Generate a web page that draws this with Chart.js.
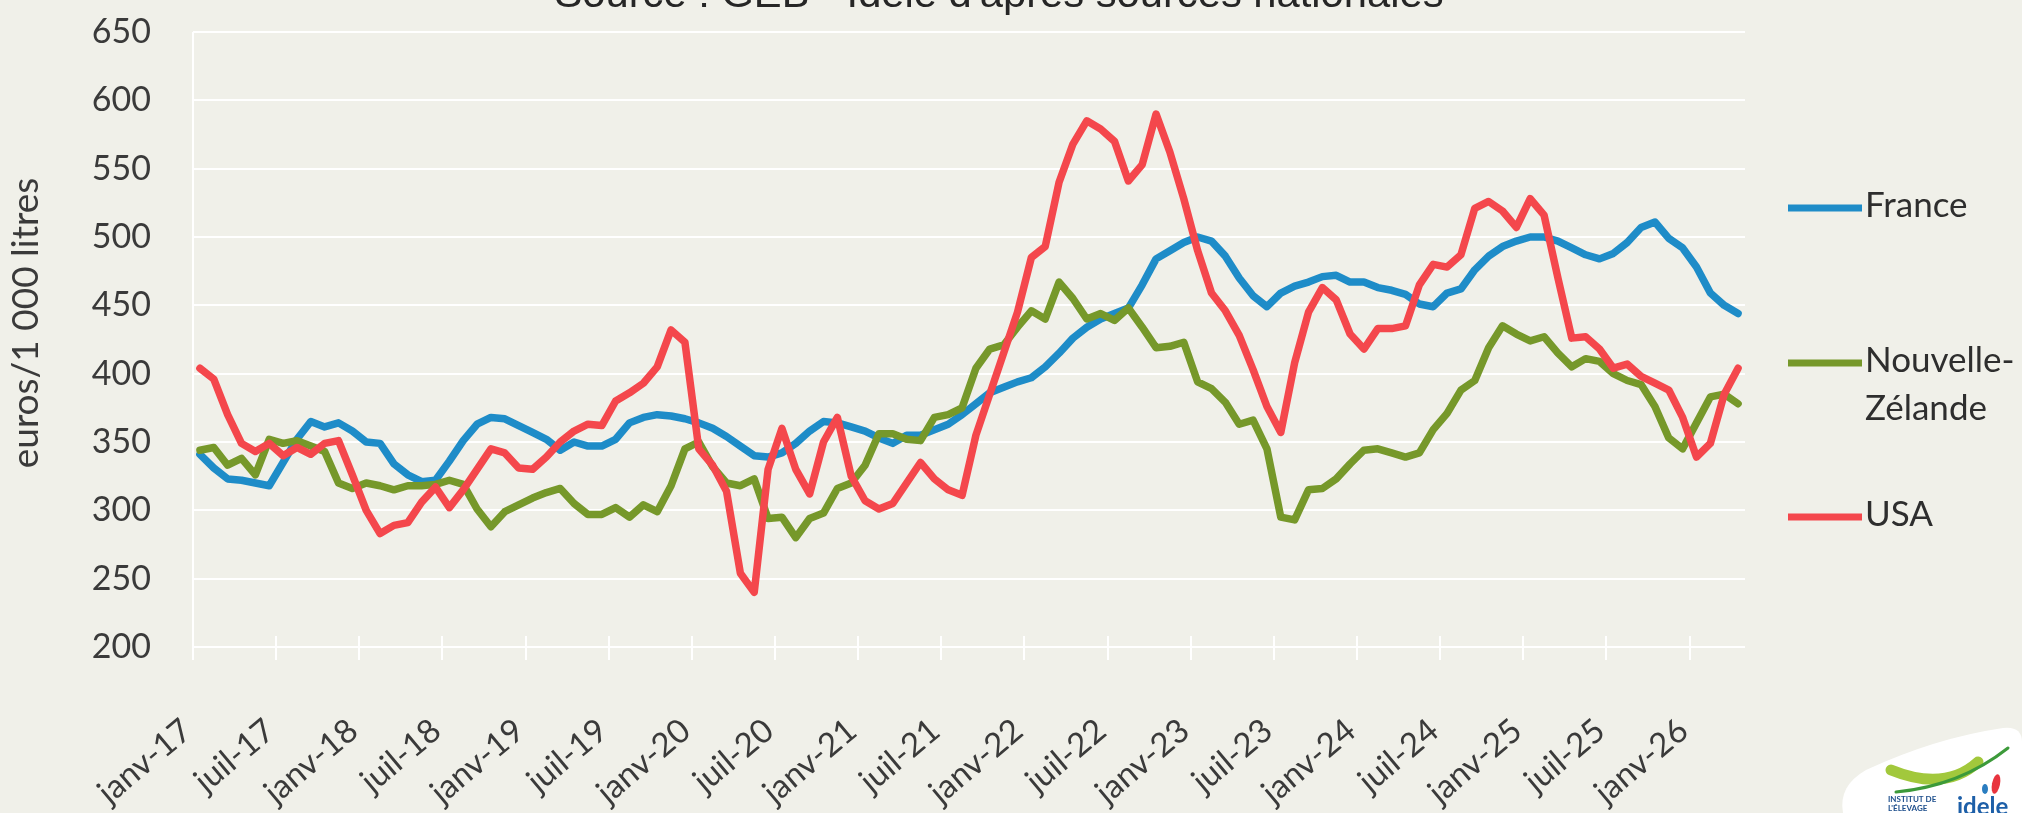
<!DOCTYPE html>
<html lang="fr">
<head>
<meta charset="utf-8">
<title>Prix du lait payé aux producteurs</title>
<script src="https://cdn.jsdelivr.net/npm/chart.js@4.4.1/dist/chart.umd.min.js"></script>
<style>
  html, body { margin: 0; padding: 0; background: #F0F0E9; }
  #wrap { width: 2022px; height: 813px; position: relative; }
</style>
</head>
<body>
<div id="wrap"><canvas id="chart"></canvas></div>
<script>
// Monthly categories: janv-17 … avr-26
const monthNames = ['janv', 'févr', 'mars', 'avr', 'mai', 'juin', 'juil', 'août', 'sept', 'oct', 'nov', 'déc'];
const years = ['17', '18', '19', '20', '21', '22', '23', '24', '25', '26'];
const lastMonthCount = 4; // janv-26 … avr-26
const months = [];
years.forEach((yy, k) => {
  const n = k === years.length - 1 ? lastMonthCount : 12;
  for (let m = 0; m < n; m++) months.push(monthNames[m] + '-' + yy);
});

// Prix du lait, euros / 1 000 litres
const france = [
  341, 331, 323, 322, 320, 318, 335, 352, 365, 361, 364, 358,
  350, 349, 334, 326, 321, 322, 336, 351, 363, 368, 367, 362,
  357, 352, 344, 350, 347, 347, 352, 364, 368, 370, 369, 367,
  364, 360, 354, 347, 340, 339, 342, 349, 358, 365, 364, 361,
  358, 353, 349, 355, 355, 359, 363, 370, 378, 386, 390, 394,
  397, 405, 415, 426, 434, 440, 444, 448, 465, 484, 490, 496,
  500, 497, 486, 470, 457, 449, 459, 464, 467, 471, 472, 467,
  467, 463, 461, 458, 451, 449, 459, 462, 476, 486, 493, 497,
  500, 500, 497, 492, 487, 484, 488, 496, 507, 511, 499, 492,
  478, 459, 450, 444
];
const nouvelleZelande = [
  344, 346, 333, 338, 326, 352, 349, 351, 347, 343, 320, 316,
  320, 318, 315, 318, 318, 319, 322, 319, 301, 288, 299, 304,
  309, 313, 316, 305, 297, 297, 302, 295, 304, 299, 318, 345,
  350, 332, 320, 318, 323, 294, 295, 280, 294, 298, 316, 320,
  333, 356, 356, 352, 351, 368, 370, 375, 404, 418, 421, 434,
  446, 440, 467, 455, 440, 444, 439, 448, 434, 419, 420, 423,
  394, 389, 379, 363, 366, 345, 295, 293, 315, 316, 323, 334,
  344, 345, 342, 339, 342, 359, 371, 388, 395, 419, 435, 429,
  424, 427, 415, 405, 411, 409, 400, 395, 392, 376, 353, 345,
  364, 383, 385, 378
];
const usa = [
  404, 396, 370, 349, 343, 349, 340, 346, 341, 349, 351, 326,
  300, 283, 289, 291, 306, 317, 302, 315, 330, 345, 342, 331,
  330, 339, 350, 358, 363, 362, 380, 386, 393, 405, 432, 423,
  345, 333, 314, 254, 240, 330, 360, 330, 312, 350, 368, 325,
  307, 301, 305, 320, 335, 323, 315, 311, 355, 385, 415, 445,
  485, 493, 540, 568, 585, 579, 570, 541, 553, 590, 562, 528,
  490, 459, 446, 428, 403, 376, 357, 408, 445, 463, 454, 429,
  418, 433, 433, 435, 465, 480, 478, 487, 521, 526, 519, 507,
  528, 516, 470, 426, 427, 418, 404, 407, 398, 393, 388, 368,
  339, 349, 385, 404
];
const yTicks = { min: 200, max: 650, step: 50 };
const tickEvery = 6; // janv / juil

const sourceText = "Source : GEB - Idele d'après sources nationales";
const yTitle = 'euros/1 000 litres';

const BG = '#F0F0E9';
const TEXT = '#3A3A3A';
const FONT = 'Lato, "Open Sans", "Noto Sans", sans-serif';

// each value sits in the middle of its month slot
const toPoints = arr => arr.map((v, i) => ({ x: i + 0.5, y: v }));

const series = [
  { label: 'France', values: france, color: '#1E8CC8' },
  { label: 'Nouvelle-Zélande', values: nouvelleZelande, color: '#76982A' },
  { label: 'USA', values: usa, color: '#F4474C' }
];

const frame = {
  id: 'frame',
  beforeDraw(chart) {
    const { ctx, width, height } = chart;
    ctx.save();
    ctx.fillStyle = BG;
    ctx.fillRect(0, 0, width, height);
    ctx.restore();
  },
  beforeDatasetsDraw(chart) {
    const { ctx, chartArea: a, scales: { x } } = chart;
    ctx.save();
    ctx.strokeStyle = '#FFFFFF';
    ctx.lineWidth = 2;
    ctx.beginPath();
    ctx.moveTo(a.left, a.top);
    ctx.lineTo(a.left, a.bottom + 13);
    ctx.stroke();
    x.ticks.forEach(t => {
      const px = Math.round(x.getPixelForValue(t.value));
      ctx.beginPath();
      ctx.moveTo(px, a.bottom - 11);
      ctx.lineTo(px, a.bottom + 13);
      ctx.stroke();
    });
    ctx.restore();
  },
  afterDraw(chart) {
    const { ctx, chartArea: a } = chart;
    ctx.save();

    // source line, partly above the top edge
    ctx.fillStyle = '#262626';
    ctx.font = '40px "Liberation Sans Narrow", "Liberation Sans", Arial, sans-serif';
    const w = ctx.measureText(sourceText).width;
    ctx.translate(999, 7);
    ctx.scale(889 / w, 1);
    ctx.textAlign = 'center';
    ctx.textBaseline = 'alphabetic';
    ctx.fillText(sourceText, 0, 0);
    ctx.setTransform(1, 0, 0, 1, 0, 0);

    // vertical axis title
    ctx.save();
    ctx.translate(26, 323);
    ctx.rotate(-Math.PI / 2);
    ctx.fillStyle = TEXT;
    ctx.font = '37px ' + FONT;
    ctx.textAlign = 'center';
    ctx.textBaseline = 'middle';
    ctx.fillText(yTitle, 0, 0);
    ctx.restore();

    // legend at the right
    const slots = [208, 363, 517];
    const lx0 = a.right + 43, lx1 = a.right + 117;
    ctx.font = '35px ' + FONT;
    ctx.textAlign = 'left';
    ctx.textBaseline = 'alphabetic';
    chart.data.datasets.forEach((ds, i) => {
      const y = slots[i];
      ctx.strokeStyle = ds.borderColor;
      ctx.lineWidth = 7;
      ctx.beginPath();
      ctx.moveTo(lx0, y);
      ctx.lineTo(lx1, y);
      ctx.stroke();
      ctx.fillStyle = '#2E2E2E';
      ds.label.split(/(?<=-)/).forEach((part, j) => {
        ctx.fillText(part, lx1 + 3, y + 9 + j * 48);
      });
    });

    // institute badge, bottom right
    ctx.fillStyle = '#FFFFFF';
    ctx.beginPath();
    ctx.moveTo(1843, 813);
    ctx.quadraticCurveTo(1838, 786, 1866, 770);
    ctx.quadraticCurveTo(1935, 738, 2003, 728);
    ctx.quadraticCurveTo(2022, 726, 2022, 742);
    ctx.lineTo(2022, 813);
    ctx.closePath();
    ctx.fill();
    ctx.lineCap = 'round';
    ctx.strokeStyle = '#A2C83C';
    ctx.lineWidth = 11;
    ctx.beginPath();
    ctx.moveTo(1891, 770);
    ctx.quadraticCurveTo(1945, 792, 1978, 762);
    ctx.stroke();
    ctx.strokeStyle = '#3C9A3A';
    ctx.lineWidth = 3;
    ctx.beginPath();
    ctx.moveTo(1896, 792);
    ctx.quadraticCurveTo(1960, 786, 2008, 748);
    ctx.stroke();
    ctx.fillStyle = '#E8343E';
    ctx.beginPath();
    ctx.ellipse(1996, 784, 4, 10, 0.2, 0, Math.PI * 2);
    ctx.fill();
    ctx.fillStyle = '#2A7DC0';
    ctx.beginPath();
    ctx.ellipse(1985, 789, 3, 5, 0, 0, Math.PI * 2);
    ctx.fill();
    ctx.fillStyle = '#1D5FA8';
    ctx.font = 'bold 24px ' + FONT;
    ctx.fillText('idele', 1957, 815);
    ctx.font = 'bold 8px ' + FONT;
    ctx.fillStyle = '#1D4E8C';
    ctx.fillText('INSTITUT DE', 1888, 802);
    ctx.fillText("L'ÉLEVAGE", 1888, 811);

    ctx.restore();
  }
};

new Chart(document.getElementById('chart'), {
  type: 'line',
  data: {
    datasets: series.map((s, i) => ({
      label: s.label,
      data: toPoints(s.values),
      borderColor: s.color,
      backgroundColor: s.color,
      borderWidth: 7.5,
      pointRadius: 0,
      pointHoverRadius: 0,
      tension: 0,
      borderJoinStyle: 'round',
      borderCapStyle: 'round',
      fill: false,
      order: series.length - i
    }))
  },
  options: {
    responsive: true,
    maintainAspectRatio: false,
    devicePixelRatio: 1,
    animation: false,
    events: [],
    layout: { padding: { top: 32, right: 277, left: 0, bottom: 0 } },
    plugins: {
      legend: { display: false },
      title: { display: false },
      tooltip: { enabled: false }
    },
    scales: {
      x: {
        type: 'linear',
        min: 0,
        max: months.length,
        border: { display: false },
        grid: { display: false, drawTicks: false },
        ticks: {
          stepSize: tickEvery,
          includeBounds: false,
          autoSkip: false,
          maxRotation: 40,
          minRotation: 40,
          padding: 64,
          labelOffset: -6,
          color: TEXT,
          font: { family: FONT, size: 33 },
          callback: v => months[v] ?? ''
        },
        afterFit: s => { s.height = 166; }
      },
      y: {
        min: yTicks.min,
        max: yTicks.max,
        border: { display: false },
        grid: { color: '#FFFFFF', lineWidth: 2, drawTicks: false },
        ticks: {
          stepSize: yTicks.step,
          padding: 42,
          color: TEXT,
          font: { family: FONT, size: 34 }
        },
        afterFit: s => {
          s.width = 193;
          // keep the plot top at the layout padding
          s.paddingTop = 0;
          s.paddingBottom = 0;
        }
      }
    }
  },
  plugins: [frame]
});
</script>
</body>
</html>
